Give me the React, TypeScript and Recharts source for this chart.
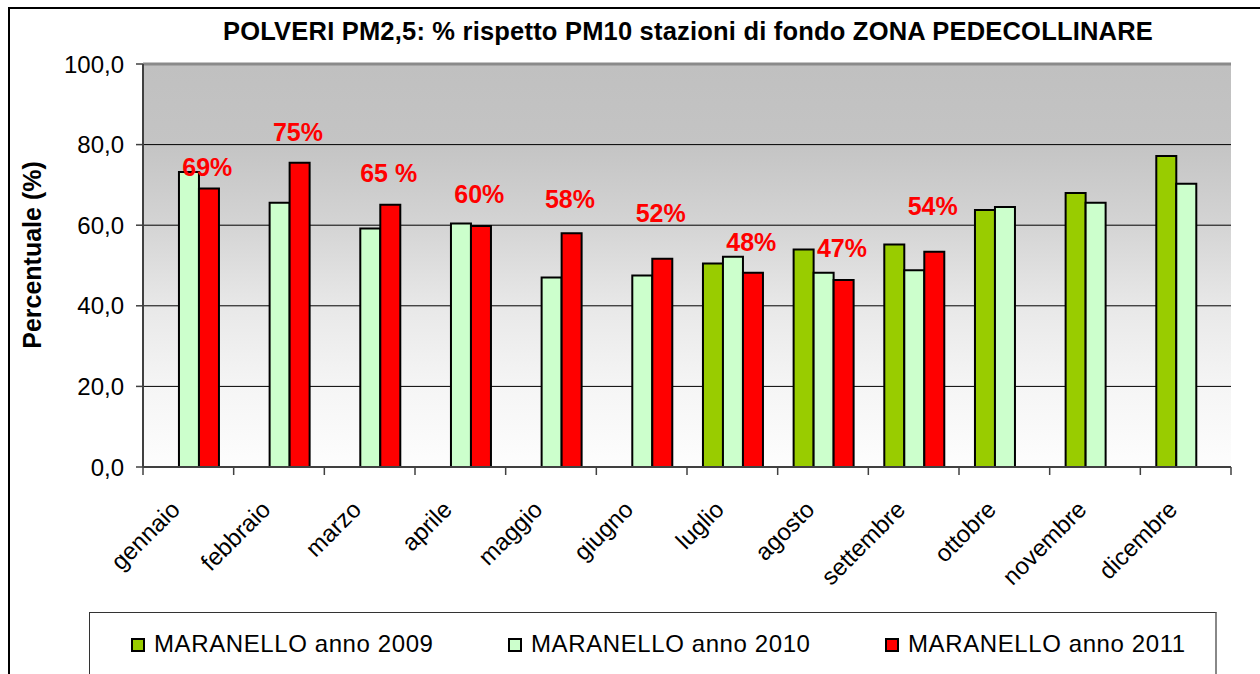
import {
  BarChart,
  Bar,
  XAxis,
  YAxis,
  CartesianGrid,
  ReferenceLine,
  ReferenceDot,
  Legend
} from 'recharts';

const MONTHS = ['gennaio', 'febbraio', 'marzo', 'aprile', 'maggio', 'giugno', 'luglio', 'agosto', 'settembre', 'ottobre', 'novembre', 'dicembre'];
const SERIES_2009 = [null, null, null, null, null, null, 50.5, 54.0, 55.2, 63.8, 68.0, 77.2];
const SERIES_2010 = [73.2, 65.6, 59.2, 60.4, 47.0, 47.5, 52.2, 48.2, 48.8, 64.5, 65.6, 70.3];
const SERIES_2011 = [69.1, 75.5, 65.1, 59.8, 58.0, 51.7, 48.2, 46.4, 53.4, null, null, null];
const Y_TICKS = [0, 20, 40, 60, 80, 100];

// red notes over the 2011 bars, level in %
const NOTE_TEXT = ['69%', '75%', '65 %', '60%', '58%', '52%', '48%', '47%', '54%'];
const NOTE_LEVEL = [74.4, 83.2, 72.9, 67.7, 66.5, 63.0, 55.8, 54.3, 64.8];

const LEGEND_NAMES = ['MARANELLO anno 2009', 'MARANELLO anno 2010', 'MARANELLO anno 2011'];
const COLORS = ['#99cc00', '#ccffcc', '#ff0000'];

const FONT = '"Liberation Sans", Arial, sans-serif';
const PLOT_LEFT = 143;
const PLOT_RIGHT = 1231;
const BAND = (PLOT_RIGHT - PLOT_LEFT) / MONTHS.length;

const data = MONTHS.map((m, i) => ({
  month: m,
  y2009: SERIES_2009[i],
  y2010: SERIES_2010[i],
  y2011: SERIES_2011[i]
}));

const MonthTick = (props: any) => {
  const { x, y, payload, index } = props;
  return (
    <g>
      <line x1={x - BAND / 2} x2={x - BAND / 2} y1={y} y2={y + 8} stroke="#404040" strokeWidth={1.5} />
      {index === MONTHS.length - 1 && (
        <line x1={x + BAND / 2} x2={x + BAND / 2} y1={y} y2={y + 8} stroke="#404040" strokeWidth={1.5} />
      )}
      <text
        transform={`translate(${x - 7},${y + 44}) rotate(-45)`}
        textAnchor="end"
        fontSize={24}
        fontFamily={FONT}
        fill="#000"
      >
        {payload.value}
      </text>
    </g>
  );
};

const LegendBox = () => (
  <div
    style={{
      position: 'relative',
      width: 1128,
      height: 80,
      boxSizing: 'border-box',
      border: '1px solid #333',
      borderRight: '2px solid #888',
      background: '#fff',
      fontFamily: FONT
    }}
  >
    {LEGEND_NAMES.map((name, i) => (
      <div key={name} style={{ position: 'absolute', left: 41 + i * 377, top: 0 }}>
        <div
          style={{
            position: 'absolute',
            left: 0,
            top: 25,
            width: 14,
            height: 14,
            boxSizing: 'border-box',
            border: '2px solid #000',
            background: COLORS[i]
          }}
        />
        <div
          style={{
            position: 'absolute',
            left: 23,
            top: 19,
            fontSize: 24,
            lineHeight: '24px',
            letterSpacing: 0.6,
            whiteSpace: 'nowrap',
            color: '#000'
          }}
        >
          {name}
        </div>
      </div>
    ))}
  </div>
);

export default function App() {
  return (
    <div style={{ position: 'absolute', left: 0, top: 0, width: 1260, height: 674, overflow: 'hidden', background: '#fff' }}>
      <svg width={0} height={0} style={{ position: 'absolute' }}>
        <defs>
          <linearGradient id="plotBg" x1="0" y1="0" x2="0" y2="1">
            <stop offset="0%" stopColor="#c0c0c0" />
            <stop offset="20%" stopColor="#c4c4c4" />
            <stop offset="40%" stopColor="#d4d4d4" />
            <stop offset="60%" stopColor="#e8e8e8" />
            <stop offset="80%" stopColor="#f5f5f5" />
            <stop offset="100%" stopColor="#fdfdfd" />
          </linearGradient>
        </defs>
      </svg>
      <div
        style={{
          position: 'absolute',
          left: 8,
          top: 7,
          width: 1300,
          height: 700,
          borderTop: '2px solid #000',
          borderLeft: '2px solid #000'
        }}
      />
      <div
        style={{
          position: 'absolute',
          left: 188,
          top: 19,
          width: 1000,
          textAlign: 'center',
          fontFamily: FONT,
          fontWeight: 'bold',
          fontSize: 25.5,
          lineHeight: '25px',
          letterSpacing: 0.2,
          whiteSpace: 'nowrap',
          color: '#000'
        }}
      >
        POLVERI PM2,5: % rispetto PM10 stazioni di fondo ZONA PEDECOLLINARE
      </div>
      <div style={{ position: 'absolute', left: 0, top: 0 }}>
        <BarChart
          width={1260}
          height={674}
          data={data}
          margin={{ top: 64, right: 1260 - PLOT_RIGHT, bottom: 67, left: 0 }}
          barCategoryGap="17.6%"
          barGap={0}
        >
          <CartesianGrid vertical={false} stroke="#000" strokeWidth={1} fill="url(#plotBg)" fillOpacity={1} />
          <XAxis
            dataKey="month"
            height={140}
            interval={0}
            tickLine={false}
            tickSize={0}
            tickMargin={0}
            axisLine={{ stroke: '#404040', strokeWidth: 2 }}
            tick={<MonthTick />}
          />
          <YAxis
            width={PLOT_LEFT}
            domain={[0, 100]}
            ticks={Y_TICKS}
            interval={0}
            tickSize={7}
            tickMargin={12}
            tickFormatter={(v: number) => v.toFixed(1).replace('.', ',')}
            tick={{ fill: '#000', fontSize: 24, fontFamily: FONT }}
            tickLine={{ stroke: '#404040', strokeWidth: 1.5 }}
            axisLine={{ stroke: '#404040', strokeWidth: 2 }}
            label={{
              content: () => (
                <text
                  x={41}
                  y={255}
                  transform="rotate(-90, 41, 255)"
                  textAnchor="middle"
                  fontSize={25}
                  fontWeight="bold"
                  fontFamily={FONT}
                  fill="#000"
                >
                  Percentuale (%)
                </text>
              )
            }}
          />
          <YAxis
            yAxisId="frame"
            orientation="right"
            width={0}
            tick={false}
            tickLine={false}
            axisLine={{ stroke: '#8a8a8a', strokeWidth: 3 }}
          />
          <ReferenceLine y={100} stroke="#8a8a8a" strokeWidth={3} />
          <Bar dataKey="y2009" name={LEGEND_NAMES[0]} fill={COLORS[0]} stroke="#000" strokeWidth={2} isAnimationActive={false} />
          <Bar dataKey="y2010" name={LEGEND_NAMES[1]} fill={COLORS[1]} stroke="#000" strokeWidth={2} isAnimationActive={false} />
          <Bar dataKey="y2011" name={LEGEND_NAMES[2]} fill={COLORS[2]} stroke="#000" strokeWidth={2} isAnimationActive={false} />
          {NOTE_TEXT.map((t, i) => (
            <ReferenceDot
              key={`note-${i}`}
              x={MONTHS[i]}
              y={NOTE_LEVEL[i]}
              r={0}
              shape={(p: any) => (
                <text
                  x={p.cx + 19}
                  y={p.cy + 9}
                  textAnchor="middle"
                  fontSize={25}
                  fontWeight="bold"
                  fontFamily={FONT}
                  fill="#ff0000"
                >
                  {t}
                </text>
              )}
            />
          ))}
          <Legend
            layout="horizontal"
            verticalAlign="middle"
            align="center"
            wrapperStyle={{ position: 'absolute', left: 89, top: 612, width: 1128, height: 80 }}
            content={() => <LegendBox />}
          />
        </BarChart>
      </div>
    </div>
  );
}
